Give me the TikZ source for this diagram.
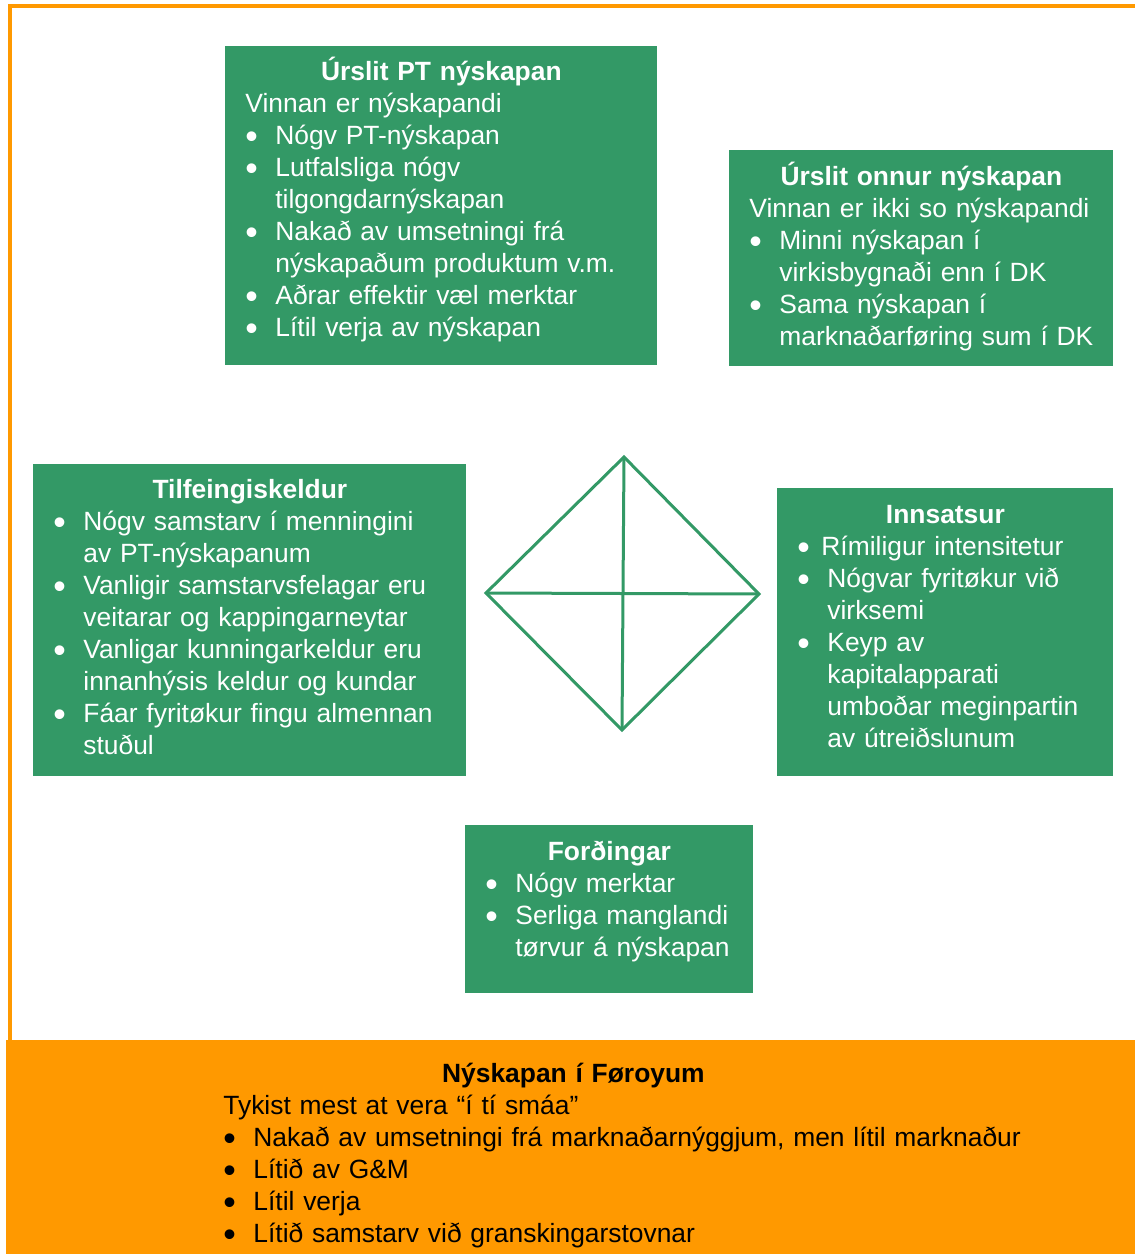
\documentclass[tikz,border=0pt]{standalone}
\usepackage{fontspec}
\setmainfont{Liberation Sans}
\usepackage{xcolor}
\usepackage{graphicx}
\usetikzlibrary{positioning}

\definecolor{fogreen}{HTML}{339966}
\definecolor{foorange}{HTML}{FF9900}

% title line centred over the box, then bullet items with hanging indent
\newcommand{\btitle}[2]{\makebox[#1][c]{\bfseries #2}\par}
\newcommand{\bdot}{\raisebox{-2.4pt}{\scalebox{1.35}{\textbullet}}}
\newcommand{\bul}[2][15pt]{\par\hangindent=15pt\hangafter=1\noindent\makebox[#1][l]{\bdot}#2\par}

\begin{document}
\begin{tikzpicture}[
  x=0.5pt, y=-0.5pt,
  gbox/.style 2 args={fill=fogreen, draw=none, inner sep=0pt, anchor=north west, minimum width=#1, minimum height=#2},
  obox/.style 2 args={fill=foorange, draw=none, inner sep=0pt, anchor=north west, minimum width=#1, minimum height=#2},
  txt/.style={anchor=base west, inner sep=0pt, align=left, text width=260pt, text=white, font=\fontsize{13.2}{16}\selectfont},
  dline/.style={draw=fogreen, line width=1.5pt},
  frame/.style={draw=foorange, line width=2pt}
]
\useasboundingbox (0,0) rectangle (1135,1254);
\clip (0,0) rectangle (1135,1254);

\draw[frame] (1140,6) -- (9.5,6) -- (9.5,1042);

\node[gbox={216pt}{159.5pt}] (pt) at (225,46) {};
\node[txt] (pttxt) at ([shift={(20,34)}]pt.north west) {%
  \btitle{196pt}{Úrslit PT nýskapan}
  Vinnan er nýskapandi
  \bul{Nógv PT-nýskapan}
  \bul{Lutfalsliga nógv\newline tilgongdarnýskapan}
  \bul{Nakað av umsetningi frá\newline nýskapaðum produktum v.m.}
  \bul{Aðrar effektir væl merktar}
  \bul{Lítil verja av nýskapan}};

\node[gbox={192pt}{108pt}] (onnur) at (729,150) {};
\node[txt] (onnurtxt) at ([shift={(20,35)}]onnur.north west) {%
  \btitle{172pt}{Úrslit onnur nýskapan}
  Vinnan er ikki so nýskapandi
  \bul{Minni nýskapan í\newline virkisbygnaði enn í DK}
  \bul{Sama nýskapan í\newline marknaðarføring sum í DK}};

\node[gbox={216.5pt}{156pt}] (tilf) at (33,464) {};
\node[txt] (tilftxt) at ([shift={(20,34)}]tilf.north west) {%
  \btitle{196.5pt}{Tilfeingiskeldur}
  \bul{Nógv samstarv í menningini\newline av PT-nýskapanum}
  \bul{Vanligir samstarvsfelagar eru\newline veitarar og kappingarneytar}
  \bul{Vanligar kunningarkeldur eru\newline innanhýsis keldur og kundar}
  \bul{Fáar fyritøkur fingu almennan\newline stuðul}};

\node[gbox={168pt}{144pt}] (inns) at (777,488) {};
\node[txt] (innstxt) at ([shift={(20,35)}]inns.north west) {%
  \btitle{148pt}{Innsatsur}
  \bul[12pt]{Rímiligur intensitetur}
  \bul{Nógvar fyritøkur við\newline virksemi}
  \bul{Keyp av\newline kapitalapparati\newline umboðar meginpartin\newline av útreiðslunum}};

\node[gbox={144pt}{84pt}] (ford) at (465,825) {};
\node[txt] (fordtxt) at ([shift={(20,35)}]ford.north west) {%
  \btitle{124pt}{Forðingar}
  \bul{Nógv merktar}
  \bul{Serliga manglandi\newline tørvur á nýskapan}};

% diamond in the middle
\coordinate (dtop) at (624,457);
\coordinate (dleft) at (486,593);
\coordinate (dright) at (759,594);
\coordinate (dbot) at (622,730);
\draw[dline] (dtop) -- (dright) -- (dbot) -- (dleft) -- cycle;
\draw[dline] (dtop) -- (dbot);
\draw[dline] (dleft) -- (dright);

\node[obox={580pt}{120pt}] (foroy) at (6,1040) {};
\node[txt, text=black, text width=430pt] (foroytxt) at ([shift={(217,42)}]foroy.north west) {%
  \btitle{350pt}{Nýskapan í Føroyum}
  Tykist mest at vera “í tí smáa”
  \bul{Nakað av umsetningi frá marknaðarnýggjum, men lítil marknaður}
  \bul{Lítið av G\&M}
  \bul{Lítil verja}
  \bul{Lítið samstarv við granskingarstovnar}};
\end{tikzpicture}
\end{document}
